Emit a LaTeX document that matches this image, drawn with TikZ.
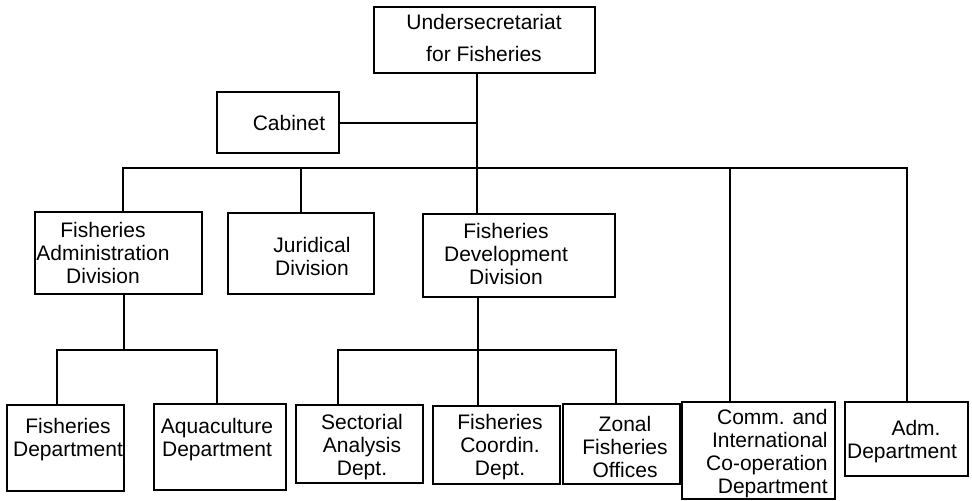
\documentclass[tikz,border=0pt]{standalone}
\usepackage{fontspec}
\setmainfont{Liberation Sans}

\begin{document}
\begin{tikzpicture}[x=0.5pt, y=-0.5pt,
  box/.style={draw, line width=1.3pt, inner sep=0pt},
  txt/.style={align=center, inner sep=0pt, font=\fontsize{10.5}{11.5}\selectfont},
  link/.style={line width=1pt},
]
  \useasboundingbox (0,0) rectangle (972,500);

  % boxes
  \node[box, minimum width=110.5pt, minimum height=33pt]   (usf) at (484.5,40) {};
  \node[box, minimum width=61pt,    minimum height=30.5pt] (cab) at (278,122.5) {};
  \node[box, minimum width=83.5pt,  minimum height=41pt]   (fad) at (118.5,253) {};
  \node[box, minimum width=73pt,    minimum height=40.5pt] (jur) at (301,253.5) {};
  \node[box, minimum width=96pt,    minimum height=41.5pt] (fdd) at (519,255.5) {};
  \node[box, minimum width=58.5pt,  minimum height=43pt]   (fd)  at (65.5,448) {};
  \node[box, minimum width=66pt,    minimum height=43pt]   (aqd) at (220,447) {};
  \node[box, minimum width=63.5pt,  minimum height=39pt]   (sad) at (359.5,444) {};
  \node[box, minimum width=63.5pt,  minimum height=39pt]   (fcd) at (496.5,445) {};
  \node[box, minimum width=58.5pt,  minimum height=40pt]   (zfo) at (621.5,444) {};
  \node[box, minimum width=76.5pt,  minimum height=48.5pt] (cic) at (758.5,450.5) {};
  \node[box, minimum width=61.5pt,  minimum height=37pt]   (adm) at (906.5,439) {};

  % texts
  \node[txt, font=\fontsize{10.5}{16}\selectfont] (usft) at (484,38) {Undersecretariat\\for Fisheries};
  \node[txt] (cabt) at (289,123) {Cabinet};
  \node[txt] (fadt) at (103,253) {Fisheries\\Administration\\Division};
  \node[txt] (jurt) at (312,256) {Juridical\\Division};
  \node[txt] (fddt) at (506,254) {Fisheries\\Development\\Division};
  \node[txt] (fdt)  at (68,440) {Fisheries\\Department};
  \node[txt] (aqdt) at (217,440) {Aquaculture\\Department};
  \node[txt] (sadt) at (362,447) {Sectorial\\Analysis\\Dept.};
  \node[txt] (fcdt) at (500,447) {Fisheries\\Coordin.\\Dept.};
  \node[txt] (zfot) at (625,447) {Zonal\\Fisheries\\Offices};
  \node[txt, align=right, anchor=east] (cict) at (828,454) {Comm. and\\International\\Co-operation\\Department};
  \node[txt] (admt) at (902,442) {\hspace*{14pt}Adm.\\Department};

  % junctions
  \coordinate (top)  at (477,168);
  \coordinate (busL) at (123,168);
  \coordinate (busR) at (907,168);
  \coordinate (cj)   at (730,168);
  \coordinate (fadj) at (124,350);
  \coordinate (fdj)  at (57,350);
  \coordinate (aqj)  at (217,350);
  \coordinate (fddj) at (478,350);
  \coordinate (saj)  at (338,350);
  \coordinate (zoj)  at (616,350);

  % connectors
  \draw[link] (usf.south -| top) -- (fdd.north -| top);
  \draw[link] (cab.east) -- (cab.east -| top);
  \draw[link] (fad.north -| busL) -- (busL) -- (busR) -- (adm.north -| busR);
  \draw[link] (jur.north) -- (jur.north |- busL);
  \draw[link] (cj) -- (cj |- cic.north);
  \draw[link] (fad.south -| fadj) -- (fadj);
  \draw[link] (fd.north -| fdj) -- (fdj) -- (aqj) -- (aqj |- aqd.north);
  \draw[link] (fdd.south -| fddj) -- (fddj |- fcd.north);
  \draw[link] (sad.north -| saj) -- (saj) -- (zoj) -- (zoj |- zfo.north);
\end{tikzpicture}
\end{document}
